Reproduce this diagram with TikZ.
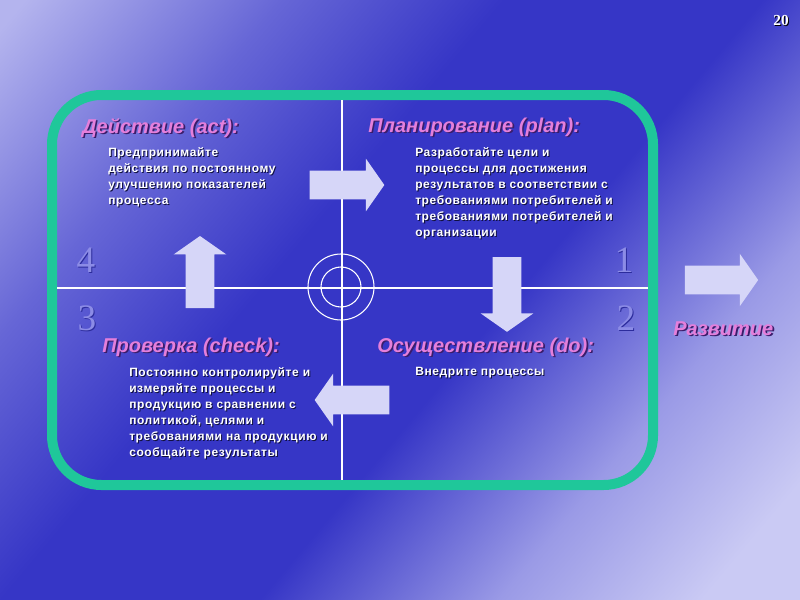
\documentclass[tikz,border=0pt]{standalone}
\usepackage{fontspec}
\setmainfont{Liberation Sans}
\newfontfamily\numfont{Liberation Serif}
\newfontfamily\bodyfont{Liberation Sans}[LetterSpace=5]
\usetikzlibrary{shapes.arrows}

\definecolor{bgtop}{HTML}{B4B4EE}
\definecolor{bgfall}{HTML}{6666D6}
\definecolor{bgmid}{HTML}{3636C6}
\definecolor{bgrise}{HTML}{9A9AE6}
\definecolor{bgbot}{HTML}{CACAF4}
\definecolor{rimgreen}{HTML}{1FC79A}
\definecolor{arrowfill}{HTML}{D6D6F8}
\definecolor{ttlpink}{HTML}{E47FDB}
\definecolor{ttlshade}{HTML}{3A1C6A}
\definecolor{txtshade}{HTML}{101040}
\definecolor{numblue}{HTML}{8C8CE6}
\definecolor{numshade}{HTML}{2C2C9C}

\pgfdeclarehorizontalshading{slidebg}{100bp}{color(0bp)=(bgtop); color(16bp)=(bgtop); color(30bp)=(bgfall);
    color(42bp)=(bgmid); color(56bp)=(bgmid); color(69bp)=(bgrise); color(80bp)=(bgbot); color(100bp)=(bgbot)}

% text with a small drop shadow
\newcommand\shd[3][0.75pt]{\rlap{\kern#1\raisebox{-#1}{\textcolor{#2}{#3}}}#3}
\newcommand\txtln[1]{\shd{txtshade}{#1}}

\tikzset{
    ttl/.style={anchor=base west, inner sep=0pt, text=ttlpink, font=\fontsize{15}{18}\selectfont\bfseries\itshape},
    txt/.style={anchor=north west, inner sep=0pt, text=white, align=left, font=\fontsize{9}{12}\selectfont\bodyfont\bfseries},
    num/.style={anchor=base, inner sep=0pt, text=numblue, font=\fontsize{28}{30}\selectfont\numfont},
    blk/.style={single arrow, fill=arrowfill, minimum height=#1, inner xsep=0pt, inner ysep=10.5pt,
        single arrow head extend=9pt, single arrow tip angle=110, single arrow head indent=0pt},
    rim/.style={draw=rimgreen, line width=7.5pt, rounded corners=37pt},
    cross/.style={draw=white, line width=0.8pt},
}

\begin{document}
\begin{tikzpicture}[x=0.75pt, y=-0.75pt]
    \useasboundingbox (0,0) rectangle (800,600);
    \shade[shading=slidebg, shading angle=-40] (0,0) rectangle (800,600);

    % frame and cross
    \draw[rim] (52,95) rectangle (653,485);
    \draw[cross] (342,100) -- (342,480);
    \draw[cross] (57,288) -- (648,288);
    \draw[cross] (341,287) circle[radius=33];
    \draw[cross] (341,287) circle[radius=20];

    % block arrows
    \node[blk=56pt] (toplan) at (342,185) {};
    \node[blk=56pt, rotate=-90] (todo) at (507,289.5) {};
    \node[blk=56pt, rotate=180] (tocheck) at (357,400) {};
    \node[blk=54pt, rotate=90] (toact) at (200,277) {};
    \node[blk=55pt] (toup) at (716.5,280) {};

    % quadrant titles
    \node[ttl] (act) at (82,133) {\shd[1.2pt]{ttlshade}{Действие (act):}};
    \node[ttl] (plan) at (368,132) {\shd[1.2pt]{ttlshade}{Планирование (plan):}};
    \node[ttl] (check) at (102,352) {\shd[1.2pt]{ttlshade}{Проверка (check):}};
    \node[ttl] (do) at (377,352) {\shd[1.2pt]{ttlshade}{Осуществление (do):}};
    \node[ttl] (razv) at (673,335) {\shd[1.2pt]{ttlshade}{Развитие}};

    % quadrant texts
    \node[txt] (acttxt) at (108,147) {\txtln{Предпринимайте}\\\txtln{действия по постоянному}\\\txtln{улучшению показателей}\\\txtln{процесса}};
    \node[txt] (plantxt) at (415,147) {\txtln{Разработайте цели и}\\\txtln{процессы для достижения}\\\txtln{результатов в соответствии с}\\\txtln{требованиями потребителей и}\\\txtln{требованиями потребителей и}\\\txtln{организации}};
    \node[txt] (checktxt) at (129,367) {\txtln{Постоянно контролируйте и}\\\txtln{измеряйте процессы и}\\\txtln{продукцию в сравнении с}\\\txtln{политикой, целями и}\\\txtln{требованиями на продукцию и}\\\txtln{сообщайте результаты}};
    \node[txt] (dotxt) at (415,367) {\txtln{Внедрите процессы}};

    % quadrant numbers
    \node[num] (n4) at (86,272) {\shd{numshade}{4}};
    \node[num] (n1) at (624,272) {\shd{numshade}{1}};
    \node[num] (n3) at (87,330) {\shd{numshade}{3}};
    \node[num] (n2) at (626,330) {\shd{numshade}{2}};

    \node[anchor=base, inner sep=0pt, text=white, font=\fontsize{11.5}{12}\selectfont\numfont\bfseries] (page) at (781,25) {\shd{black}{20}};
\end{tikzpicture}
\end{document}
